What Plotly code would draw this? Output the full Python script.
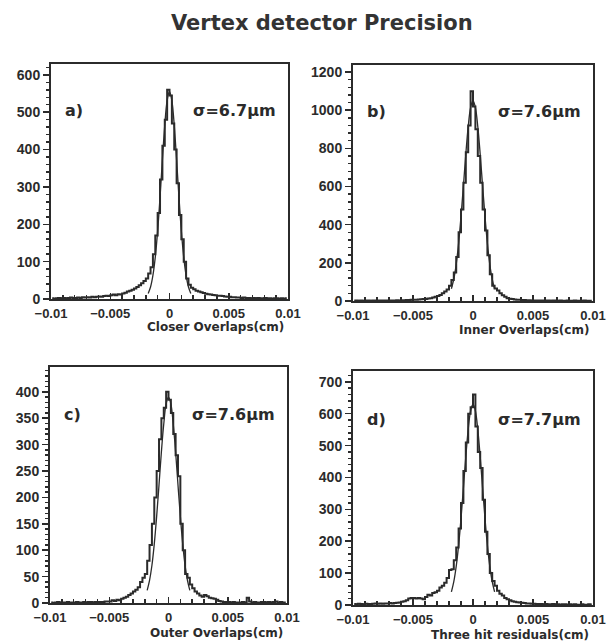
import numpy as np
import plotly.graph_objects as go

# ---------------- data ----------------
BIN_W = 0.0002
X_MIN, X_MAX = -0.01, 0.01
centers = np.round(np.arange(X_MIN + BIN_W / 2, X_MAX, BIN_W), 5)  # 100 bins

closer_counts = [
    2, 1, 2, 3, 2, 3, 2, 3, 4, 3,
    3, 4, 3, 5, 4, 5, 4, 6, 5, 6,
    7, 6, 8, 9, 8, 10, 12, 10, 13, 12,
    15, 17, 20, 22, 25, 28, 32, 37, 42, 48,
    55, 68, 85, 120, 170, 230, 320, 410, 480, 560,
    545, 470, 400, 310, 225, 160, 100, 55, 38, 30,
    26, 22, 20, 18, 16, 14, 13, 12, 11, 10,
    9, 9, 8, 7, 6, 6, 5, 5, 4, 4,
    3, 4, 3, 3, 2, 3, 2, 3, 2, 2,
    3, 2, 2, 1, 2, 2, 1, 2, 1, 2,
]
inner_counts = [
    1, 2, 1, 2, 1, 2, 2, 1, 2, 2,
    2, 3, 2, 2, 3, 2, 3, 3, 4, 3,
    4, 4, 5, 5, 6, 6, 7, 8, 9, 10,
    11, 13, 15, 18, 22, 26, 32, 40, 50, 60,
    80, 110, 150, 230, 360, 480, 620, 780, 920, 1100,
    1020, 900, 760, 620, 480, 370, 240, 140, 80, 65,
    55, 40, 30, 22, 15, 12, 10, 8, 7, 6,
    5, 5, 4, 4, 3, 3, 3, 2, 2, 3,
    2, 2, 1, 2, 2, 1, 2, 1, 1, 2,
    1, 1, 2, 1, 1, 1, 2, 1, 1, 1,
]
outer_counts = [
    1, 0, 1, 2, 1, 1, 0, 2, 1, 1,
    1, 2, 1, 1, 2, 1, 2, 2, 1, 2,
    2, 2, 2, 3, 3, 3, 5, 4, 6, 5,
    8, 10, 12, 15, 18, 22, 25, 30, 40, 48,
    55, 80, 110, 150, 200, 250, 310, 350, 370, 400,
    385, 360, 320, 280, 240, 150, 100, 55, 48, 35,
    28, 22, 18, 14, 12, 15, 13, 10, 9, 8,
    6, 4, 3, 2, 2, 2, 1, 2, 1, 1,
    1, 2, 1, 10, 3, 1, 2, 1, 1, 2,
    2, 1, 2, 1, 2, 3, 1, 2, 1, 1,
]
three_hit_counts = [
    3, 2, 4, 3, 2, 4, 3, 3, 4, 5,
    4, 5, 4, 5, 5, 6, 5, 6, 7, 8,
    10, 12, 15, 20, 22, 22, 20, 22, 20, 18,
    25, 32, 30, 38, 40, 45, 55, 60, 70, 85,
    110, 112, 140, 180, 240, 320, 420, 510, 600, 620,
    660, 560, 480, 430, 330, 230, 160, 100, 75, 60,
    45, 35, 30, 22, 18, 15, 12, 10, 9, 8,
    7, 6, 5, 5, 4, 4, 3, 3, 3, 2,
    3, 2, 2, 3, 2, 2, 1, 2, 2, 1,
    2, 1, 2, 1, 1, 2, 1, 1, 2, 1,
]

# fitted gaussian curves
fit_x = np.round(np.arange(-0.0018, 0.00181, 0.0002), 5)  # 19 points
closer_fit = [15, 32, 63, 112, 182, 272, 372, 465, 531, 555,
              531, 465, 372, 272, 182, 112, 63, 32, 15]
inner_fit = [64, 115, 192, 302, 442, 603, 769, 914, 1014, 1050,
             1014, 914, 769, 603, 442, 302, 192, 115, 64]
outer_fit = [24, 43, 71, 112, 164, 224, 286, 339, 377, 390,
             377, 339, 286, 224, 164, 112, 71, 43, 24]
three_hit_fit = [41, 73, 121, 187, 271, 367, 465, 550, 609, 630,
                 609, 550, 465, 367, 271, 187, 121, 73, 41]

panel_letters = ["a)", "b)", "c)", "d)"]
sigma_labels = ["σ=6.7μm", "σ=7.6μm", "σ=7.6μm", "σ=7.7μm"]
x_titles = ["Closer Overlaps(cm)", "Inner Overlaps(cm)",
            "Outer Overlaps(cm)", "Three hit residuals(cm)"]
y_max = [629, 1237, 447, 734]
y_dtick = [100, 200, 50, 100]
y_minor = [20, 40, 10, 20]
x_tickvals = [-0.01, -0.005, 0, 0.005, 0.01]
x_ticktext = ["−0.01", "−0.005", "0", "0.005", "0.01"]
title_text = "Vertex detector Precision"

counts = [closer_counts, inner_counts, outer_counts, three_hit_counts]
fits = [closer_fit, inner_fit, outer_fit, three_hit_fit]

# ---------------- layout (pixels) ----------------
W, H = 607, 643
boxes = [  # (left, right, top, bottom) in px
    (51, 288, 64, 299),
    (353, 593, 65, 301),
    (50, 287, 367, 603),
    (353, 593, 371, 605),
]
xt_y = [327, 330, 633, 635]


def px(x):
    return x / W


def py(y):
    return 1 - y / H


INK = "#2b2b2b"
FONT = "DejaVu Sans"
TICK_FONT = "Liberation Sans"

fig = go.Figure()
layout = dict(
    width=W, height=H, margin=dict(l=0, r=0, t=0, b=0, autoexpand=False),
    paper_bgcolor="white", plot_bgcolor="white", showlegend=False,
    annotations=[],
)

for k in range(4):
    n = "" if k == 0 else str(k + 1)
    xa, ya = "x" + n, "y" + n
    fig.add_trace(go.Scatter(
        x=centers, y=counts[k], mode="lines", line_shape="hvh",
        line=dict(color=INK, width=2), xaxis=xa, yaxis=ya,
        hoverinfo="skip"))
    fig.add_trace(go.Scatter(
        x=fit_x, y=fits[k], mode="lines", line_shape="spline",
        line=dict(color=INK, width=1.3), xaxis=xa, yaxis=ya,
        hoverinfo="skip"))
    l, r, t, b = boxes[k]
    layout["xaxis" + n] = dict(
        domain=[px(l), px(r)], anchor=ya, range=[X_MIN, X_MAX],
        tickvals=x_tickvals, ticktext=x_ticktext, automargin=False,
        ticklabeloverflow="allow",
        ticks="inside", ticklen=6, tickwidth=1.5, tickcolor=INK,
        minor=dict(dtick=0.001, ticks="inside", ticklen=4, tickcolor=INK),
        showline=True, linewidth=2, linecolor=INK, mirror=True,
        showgrid=False, zeroline=False, ticklabelstandoff=1,
        tickfont=dict(family=TICK_FONT, size=13, color=INK, weight="bold"),
    )
    layout["yaxis" + n] = dict(
        domain=[py(b), py(t)], anchor=xa, range=[0, y_max[k]],
        dtick=y_dtick[k], tick0=0, automargin=False,
        ticklabeloverflow="allow",
        ticks="outside", ticklen=6, tickwidth=1.5, tickcolor=INK,
        minor=dict(dtick=y_minor[k], ticks="outside", ticklen=3, tickcolor=INK),
        showline=True, linewidth=2, linecolor=INK, mirror=True,
        showgrid=False, zeroline=False,
        tickfont=dict(family=TICK_FONT, size=14, color=INK, weight="bold"),
    )
    ycen = (t + 46) if k < 2 else (t + 48)
    layout["annotations"].append(dict(
        text=panel_letters[k], xref="paper", yref="paper",
        x=px(l + 12), y=py(ycen), xanchor="left", yanchor="middle",
        showarrow=False, font=dict(family=FONT, size=16, color=INK, weight="bold")))
    layout["annotations"].append(dict(
        text=sigma_labels[k], xref="paper", yref="paper",
        x=px(r - 10), y=py(ycen), xanchor="right", yanchor="middle",
        showarrow=False, font=dict(family=FONT, size=16, color=INK, weight="bold")))
    layout["annotations"].append(dict(
        text=x_titles[k], xref="paper", yref="paper",
        x=px(r - 2), y=py(xt_y[k]), xanchor="right", yanchor="middle",
        showarrow=False, font=dict(family=FONT, size=12, color=INK, weight="bold")))

layout["annotations"].append(dict(
    text=title_text, xref="paper", yref="paper",
    x=px(322), y=py(23), xanchor="center", yanchor="middle",
    showarrow=False, font=dict(family=FONT, size=21, color="#333333", weight="bold")))

fig.update_layout(**layout)
fig.write_html(
    "out.html",
    config={"displayModeBar": False, "staticPlot": True},
    post_script="document.body.style.margin='0';document.body.style.overflow='hidden';",
)
